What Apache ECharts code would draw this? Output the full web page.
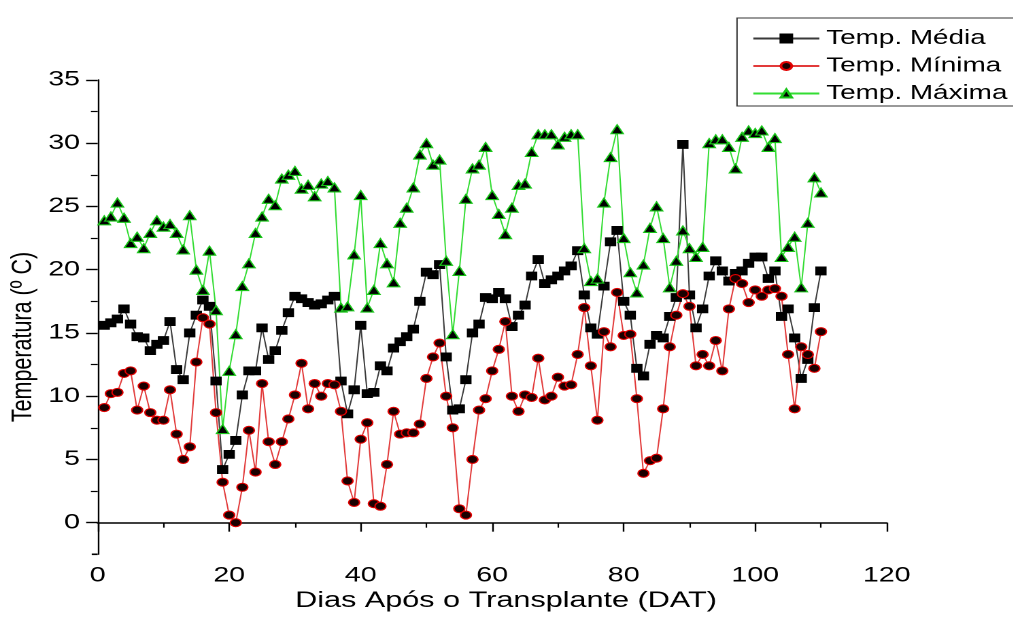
<!DOCTYPE html>
<html>
<head>
<meta charset="utf-8">
<script src="https://cdn.jsdelivr.net/npm/echarts/dist/echarts.min.js"></script>
<style>
  html, body { margin: 0; padding: 0; background: #fff; overflow: hidden; width: 1013px; height: 626px; }
  #chart { height: 626px; transform-origin: 0 0; }
</style>
</head>
<body>
<div id="chart"></div>
<script>
// Daily temperatures after transplanting (days 1..110)
const firstDay = 1;

const tempMedia = [
  15.6, 15.8, 16.1, 16.9, 15.7, 14.7, 14.6, 13.6, 14.1, 14.4,
  15.9, 12.1, 11.3, 15.0, 16.4, 17.6, 17.1, 11.2, 4.2, 5.4,
  6.5, 10.1, 12.0, 12.0, 15.4, 12.9, 13.6, 15.2, 16.6, 17.9,
  17.7, 17.4, 17.2, 17.3, 17.6, 17.9, 11.2, 8.6, 10.5, 15.6,
  10.2, 10.3, 12.4, 12.0, 13.8, 14.3, 14.7, 15.3, 17.5, 19.8,
  19.6, 20.4, 13.1, 8.9, 9.0, 11.3, 15.0, 15.7, 17.8, 17.7,
  18.2, 17.7, 15.5, 16.4, 17.2, 19.5, 20.8, 18.9, 19.2, 19.5,
  19.9, 20.3, 21.5, 18.0, 15.4, 14.9, 18.7, 22.2, 23.1, 17.5,
  16.4, 12.2, 11.6, 14.1, 14.8, 14.6, 16.3, 17.8, 29.9, 18.0,
  15.4, 16.9, 19.5, 20.7, 19.9, 19.1, 19.7, 19.9, 20.5, 21.0,
  21.0, 19.3, 19.9, 16.3, 16.9, 14.6, 11.4, 12.9, 17.0, 19.9
];

const tempMinima = [
  9.1, 10.2, 10.3, 11.8, 12.0, 8.9, 10.8, 8.7, 8.1, 8.1,
  10.5, 7.0, 5.0, 6.0, 12.7, 16.2, 15.7, 8.7, 3.2, 0.6,
  0.0, 2.8, 7.3, 4.0, 11.0, 6.4, 4.6, 6.4, 8.2, 10.1,
  12.6, 9.0, 11.0, 10.0, 11.0, 10.9, 8.8, 3.3, 1.6, 6.6,
  7.9, 1.5, 1.3, 4.6, 8.8, 7.0, 7.1, 7.1, 7.8, 11.4,
  13.1, 14.2, 10.0, 7.5, 1.1, 0.6, 5.0, 8.9, 9.8, 12.0,
  13.7, 15.9, 10.0, 8.8, 10.1, 9.9, 13.0, 9.7, 10.0, 11.5,
  10.8, 10.9, 13.3, 17.0, 12.4, 8.1, 15.1, 13.9, 18.2, 14.8,
  14.9, 9.8, 3.9, 4.9, 5.1, 9.0, 13.9, 16.4, 18.1, 17.1,
  12.4, 13.3, 12.4, 14.4, 12.0, 16.9, 19.3, 18.9, 17.4, 18.4,
  17.9, 18.4, 18.5, 17.9, 13.3, 9.0, 13.9, 13.3, 12.2, 15.1
];

const tempMaxima = [
  23.9, 24.2, 25.3, 24.1, 22.1, 22.6, 21.7, 22.9, 23.9, 23.4,
  23.6, 22.9, 21.6, 24.3, 20.0, 18.4, 21.5, 16.8, 7.4, 12.0,
  14.9, 18.7, 20.5, 22.9, 24.2, 25.6, 25.1, 27.2, 27.5, 27.8,
  26.4, 26.7, 25.8, 26.8, 27.0, 26.5, 17.0, 17.1, 21.2, 25.9,
  17.0, 18.4, 22.1, 20.5, 19.0, 23.7, 24.9, 26.5, 29.1, 30.0,
  28.3, 28.7, 20.7, 14.9, 19.9, 25.6, 28.0, 28.3, 29.7, 25.9,
  24.4, 22.8, 24.9, 26.7, 26.8, 29.3, 30.7, 30.7, 30.7, 29.9,
  30.5, 30.7, 30.7, 21.7, 19.1, 19.3, 25.3, 28.9, 31.1, 22.5,
  19.8, 18.2, 20.4, 23.3, 25.0, 22.5, 18.6, 20.7, 23.1, 21.7,
  21.0, 21.8, 30.0, 30.3, 30.3, 29.7, 28.0, 30.5, 31.0, 30.8,
  31.0, 29.7, 30.4, 21.0, 21.8, 22.6, 18.6, 23.7, 27.3, 26.1
];

const seriesNames = ['Temp. Média', 'Temp. Mínima', 'Temp. Máxima'];
const yMajorTicks = [0, 5, 10, 15, 20, 25, 30, 35];
const yMinorTicks = [2.5, 7.5, 12.5, 17.5, 22.5, 27.5, 32.5];
const xTitle = 'Dias Após o Transplante (DAT)';
const yTitle = 'Temperatura (º C)';

// The figure is laid out narrow and widened horizontally as a whole.
const S = 1.36;
const PAGE_W = 1013;
const chartEl = document.getElementById('chart');
chartEl.style.width = (PAGE_W / S) + 'px';
chartEl.style.transform = 'scaleX(' + S + ')';

const FONT = '"Liberation Sans", Arial, Helvetica, sans-serif';
const toPairs = arr => arr.map((v, i) => [firstDay + i, v]);

const chart = echarts.init(chartEl, null, { renderer: 'canvas', devicePixelRatio: 2 });

const gridLeft = 97.7 / S;
const gridRight = 886.7 / S;

chart.setOption({
  animation: false,
  backgroundColor: '#fff',
  grid: { left: gridLeft, top: 79.9, width: gridRight - gridLeft, height: 474.4, containLabel: false },
  legend: {
    orient: 'vertical',
    left: 737 / S,
    top: 18,
    padding: [10, 30, 2, 11],
    itemWidth: 66 / S,
    itemHeight: 10,
    itemGap: 6.5,
    borderColor: '#333',
    borderWidth: 1,
    backgroundColor: '#fff',
    textStyle: { fontFamily: FONT, fontSize: 20.5, color: '#000' },
    data: seriesNames
  },
  xAxis: {
    type: 'value',
    min: 0, max: 120, interval: 20,
    splitLine: { show: false },
    axisLine: { show: true, lineStyle: { color: '#000', width: 1.6 } },
    axisTick: { show: true, inside: false, length: 9, lineStyle: { color: '#000', width: 1.2 } },
    minorTick: { show: true, splitNumber: 2, length: 5, lineStyle: { color: '#000', width: 1.1 } },
    axisLabel: { show: true, margin: 11, fontFamily: FONT, fontSize: 21, color: '#000' }
  },
  yAxis: [
    {
      type: 'value',
      min: -2.5, max: 35,
      splitLine: { show: false },
      axisLine: { show: true, onZero: false, lineStyle: { color: '#000', width: 1.6 / S } },
      axisTick: { show: true, inside: false, length: 8.5, customValues: yMajorTicks, lineStyle: { color: '#000', width: 1.4 } },
      axisLabel: { show: true, margin: 13, customValues: yMajorTicks, fontFamily: FONT, fontSize: 21, color: '#000' }
    },
    {
      type: 'value',
      min: -2.5, max: 35,
      position: 'left',
      splitLine: { show: false },
      axisLine: { show: false },
      axisTick: { show: true, inside: false, length: 5, customValues: yMinorTicks, lineStyle: { color: '#000', width: 1.2 } },
      axisLabel: { show: false }
    }
  ],
  graphic: [
    {
      // short stub of the x axis reaching past the y axis
      type: 'line',
      shape: { x1: 91.7 / S, y1: 554.3, x2: gridLeft, y2: 554.3 },
      style: { stroke: '#000', lineWidth: 1.6 }
    },
    {
      type: 'text',
      x: 506 / S, y: 601,
      style: { text: xTitle, fontFamily: FONT, fontSize: 22.5, fill: '#000', align: 'center', verticalAlign: 'middle' }
    },
    {
      type: 'text',
      x: 23 / S, y: 337,
      rotation: Math.PI / 2,
      style: { text: yTitle, fontFamily: FONT, fontSize: 21.5, fill: '#000', align: 'center', verticalAlign: 'middle' }
    }
  ],
  series: [
    {
      name: seriesNames[0],
      type: 'line',
      data: toPairs(tempMedia),
      symbol: 'rect',
      symbolSize: [7.5, 8],
      lineStyle: { color: '#3a3a3a', width: 1 },
      itemStyle: { color: '#000', borderColor: '#000', borderWidth: 0.8 },
      emphasis: { disabled: true }
    },
    {
      name: seriesNames[1],
      type: 'line',
      data: toPairs(tempMinima),
      symbol: 'circle',
      symbolSize: 8,
      lineStyle: { color: '#e23a3a', width: 1 },
      itemStyle: { color: '#1a0000', borderColor: '#e00000', borderWidth: 1.1 },
      emphasis: { disabled: true }
    },
    {
      name: seriesNames[2],
      type: 'line',
      data: toPairs(tempMaxima),
      symbol: 'triangle',
      symbolSize: [9, 9],
      lineStyle: { color: '#33dd33', width: 1 },
      itemStyle: { color: '#000', borderColor: '#18c418', borderWidth: 1.1 },
      emphasis: { disabled: true }
    }
  ]
});
</script>
</body>
</html>
